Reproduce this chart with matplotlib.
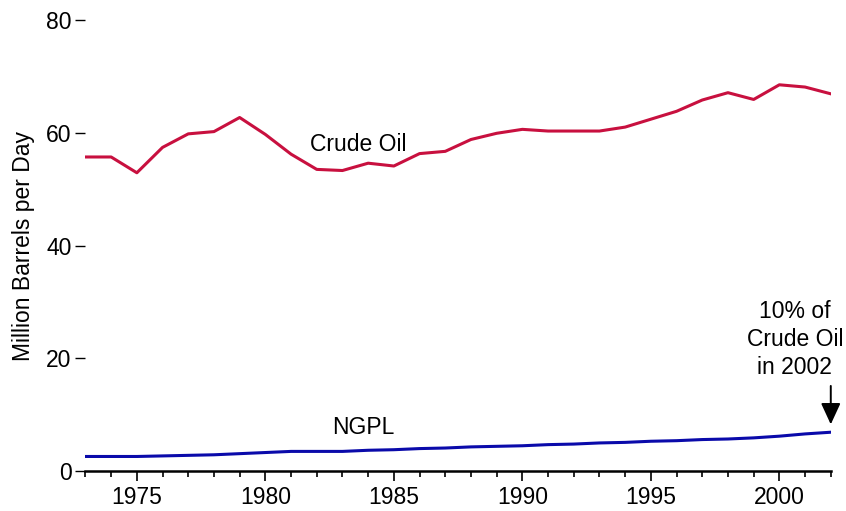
import matplotlib
matplotlib.use("Agg")
import matplotlib.pyplot as plt
from matplotlib.ticker import MultipleLocator

years = list(range(1973, 2003))
crude_oil = [55.7, 55.7, 52.9, 57.4, 59.8, 60.2, 62.7, 59.7, 56.2, 53.5,
             53.3, 54.6, 54.1, 56.3, 56.7, 58.8, 59.9, 60.6, 60.3, 60.3,
             60.3, 61.0, 62.4, 63.8, 65.8, 67.1, 65.9, 68.5, 68.1, 66.9]
ngpl = [2.6, 2.6, 2.6, 2.7, 2.8, 2.9, 3.1, 3.3, 3.5, 3.5,
        3.5, 3.7, 3.8, 4.0, 4.1, 4.3, 4.4, 4.5, 4.7, 4.8,
        5.0, 5.1, 5.3, 5.4, 5.6, 5.7, 5.9, 6.2, 6.6, 6.9]

plt.rcParams['font.family'] = ['Liberation Sans', 'DejaVu Sans']
plt.rcParams['font.size'] = 16.5

fig = plt.figure(figsize=(8.46, 5.11), dpi=100)
ax = fig.add_axes([0.101, 0.078, 0.881, 0.883])

ax.plot(years, crude_oil, color='#C8103F', lw=2.2)
ax.plot(years, ngpl, color='#0A0AAA', lw=2.2)

ax.set_xlim(1973, 2002)
ax.set_ylim(0, 80)
ax.yaxis.set_major_locator(MultipleLocator(20))
ax.xaxis.set_major_locator(MultipleLocator(5))
ax.xaxis.set_minor_locator(MultipleLocator(1))

for s in ['top', 'right', 'left']:
    ax.spines[s].set_visible(False)
ax.spines['bottom'].set_linewidth(1.8)
ax.tick_params(axis='y', length=7, width=1, pad=3, labelsize=16.5)
ax.tick_params(axis='x', which='major', length=7, width=1.2, pad=4, labelsize=16.5)
ax.tick_params(axis='x', which='minor', length=4.5, width=1.2)

ax.set_ylabel('Million Barrels per Day', fontsize=16.5, labelpad=8)

ax.text(1983.6, 58.0, 'Crude Oil', ha='center', va='center')
ax.text(1983.8, 7.8, 'NGPL', ha='center', va='center')
ax.text(2000.6, 23.4, '10% of\nCrude Oil\nin 2002', ha='center', va='center',
        linespacing=1.28)
# arrow pointing at the 2002 NGPL value
ax.annotate('', xy=(2002, 7.8), xytext=(2002, 15.6),
            arrowprops=dict(arrowstyle='-|>,head_width=0.3,head_length=0.65',
                            color='black', lw=1.4, mutation_scale=20),
            annotation_clip=False)

fig.savefig('out.png', dpi=100)
